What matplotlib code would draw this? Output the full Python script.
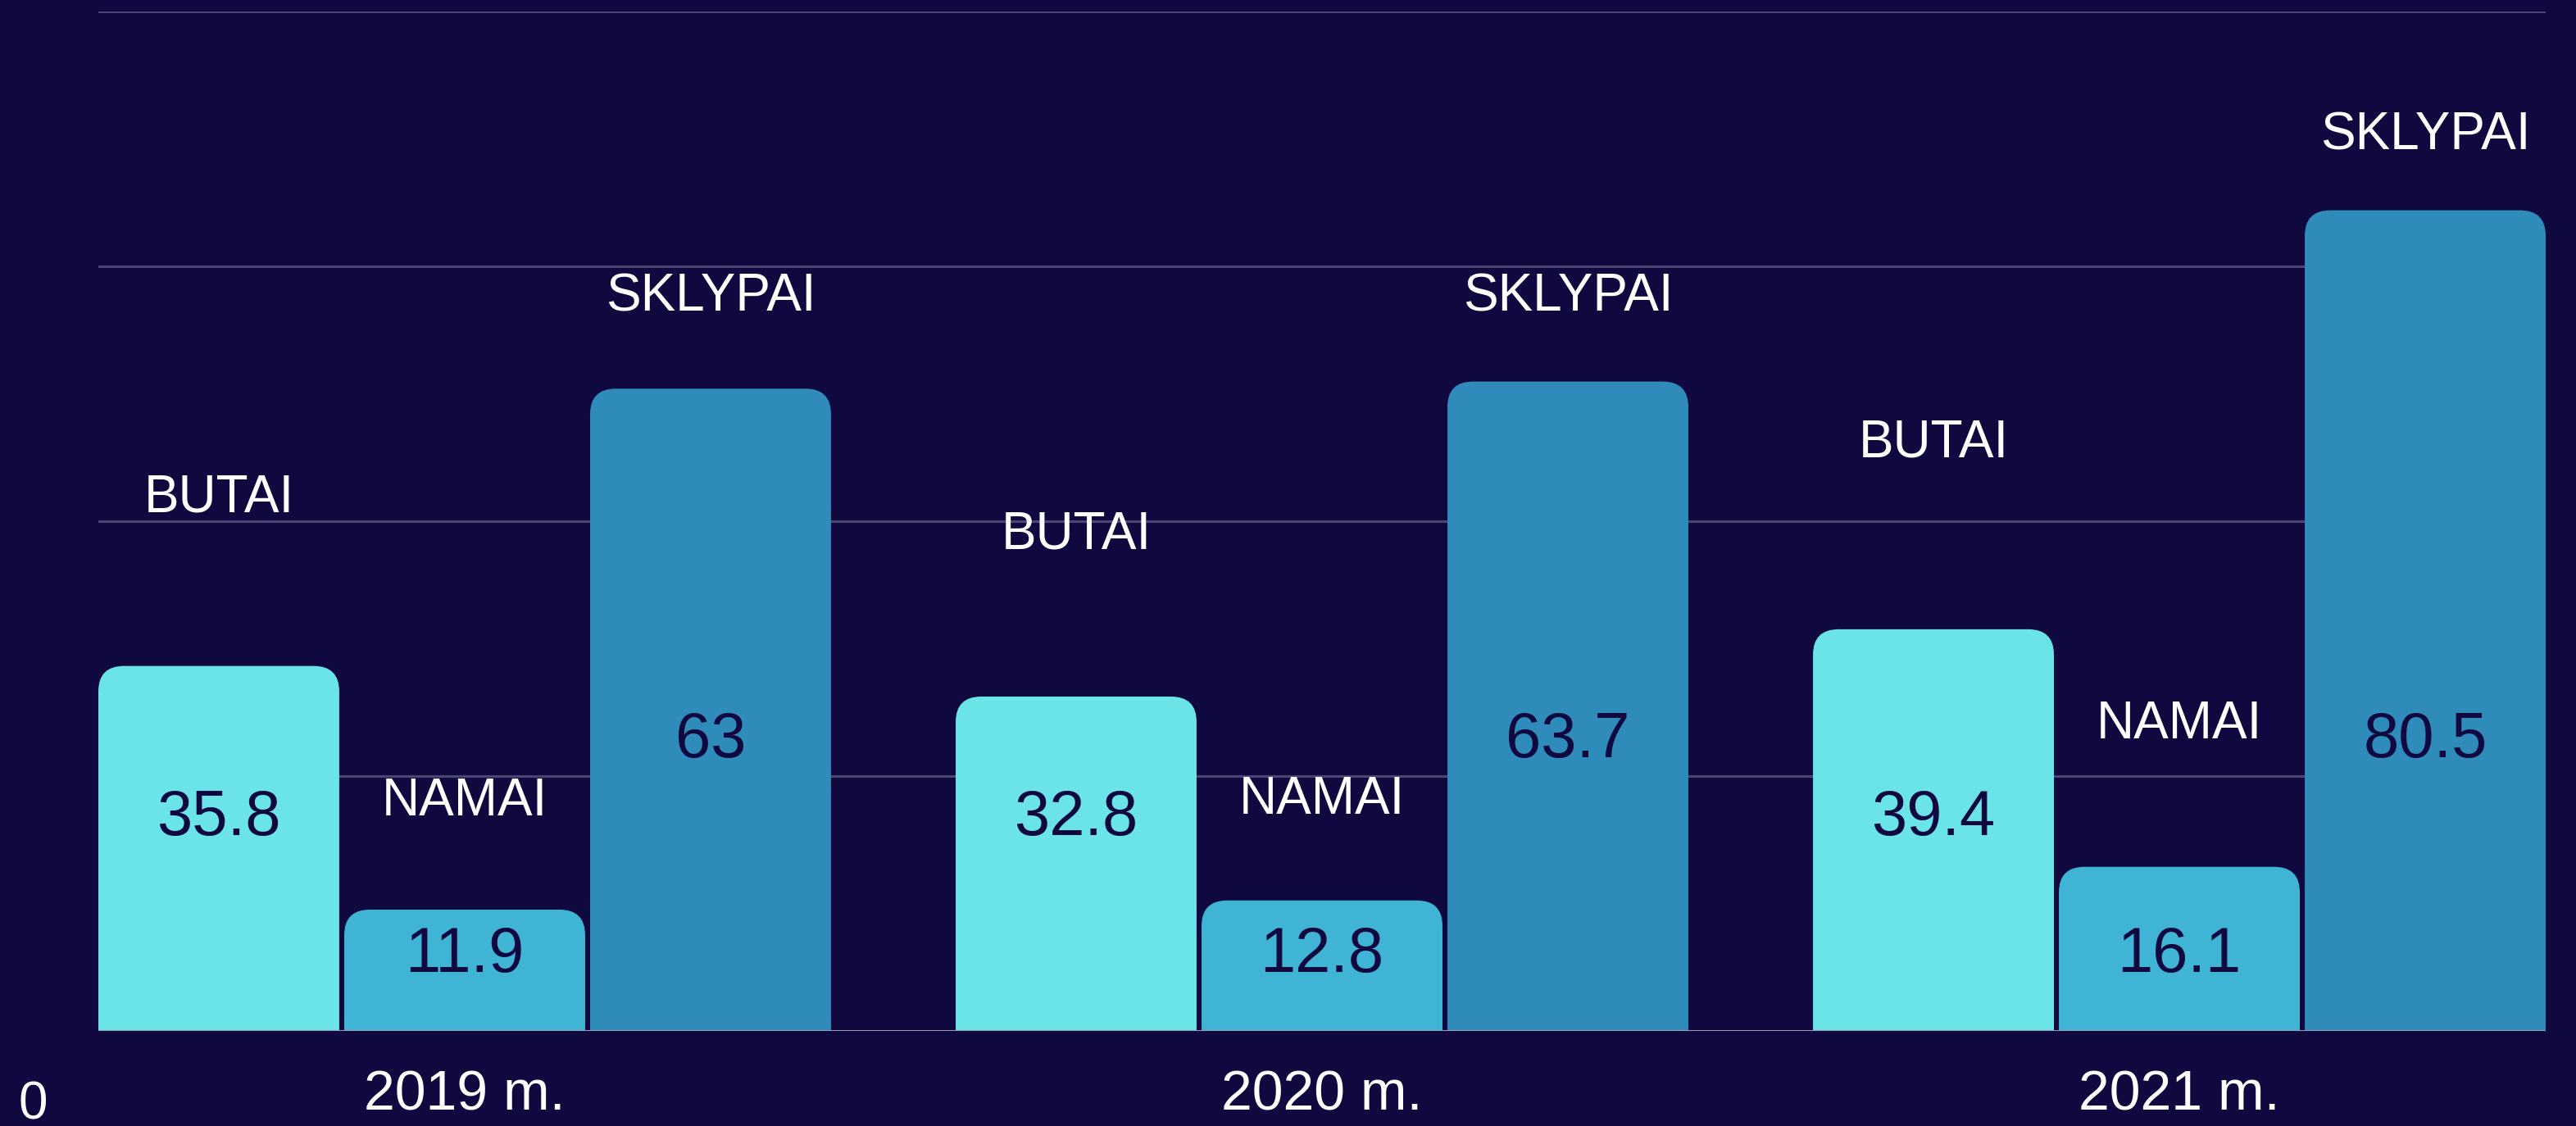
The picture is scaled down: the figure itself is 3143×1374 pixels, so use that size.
import matplotlib
matplotlib.use("Agg")
import matplotlib.pyplot as plt
from matplotlib.path import Path
from matplotlib.patches import PathPatch
import numpy as np

# --- data ---
years = ["2019 m.", "2020 m.", "2021 m."]
series = ["BUTAI", "NAMAI", "SKLYPAI"]
butai = [35.8, 32.8, 39.4]
namai = [11.9, 12.8, 16.1]
sklypai = [63, 63.7, 80.5]
values = [butai, namai, sklypai]

# where the series names sit above the bars (offset above bar top, in data units)
name_offsets = [[16.5, 15.9, 18.3],
                [10.6, 9.9, 14.0],
                [9.0, 8.3, 7.3]]
# value labels sit at a fixed height inside each series
value_label_y = [20.9, 7.4, 28.5]

bg = "#10093f"
colors = ["#6ae4e8", "#40b4d4", "#2e8bba"]
grid_color = "#4b4574"
font = ["Liberation Sans", "DejaVu Sans"]
plt.rcParams["font.family"] = font

fig = plt.figure(figsize=(31.43, 13.74), dpi=100, facecolor=bg)
ax = fig.add_axes([120 / 3143, 116 / 1374, 2986 / 3143, 1244 / 1374])
ax.set_facecolor(bg)

x = np.arange(len(years))
pitch = 0.2868
width = 0.281
rx, ry = 0.03, 2.5


def rounded_top(x0, w, h):
    x1 = x0 + w
    verts = [(x0, 0), (x0, h - ry), (x0, h), (x0 + rx, h),
             (x1 - rx, h), (x1, h), (x1, h - ry), (x1, 0), (x0, 0)]
    codes = [Path.MOVETO, Path.LINETO, Path.CURVE3, Path.CURVE3,
             Path.LINETO, Path.CURVE3, Path.CURVE3, Path.LINETO, Path.CLOSEPOLY]
    return Path(verts, codes)


for i, (name, vals) in enumerate(zip(series, values)):
    pos = x + (i - 1) * pitch
    bars = ax.bar(pos, vals, width=width, color=colors[i], zorder=2)
    for j, b in enumerate(bars):
        bx, bw, bh = b.get_x(), b.get_width(), b.get_height()
        b.remove()
        ax.add_patch(PathPatch(rounded_top(bx, bw, bh), facecolor=colors[i],
                               edgecolor="none", zorder=2))
        cx = bx + bw / 2
        ax.text(cx, value_label_y[i], f"{vals[j]:g}", ha="center", va="center",
                fontsize=56, color=bg, zorder=3)
        ax.text(cx, bh + name_offsets[i][j], name, ha="center", va="center",
                fontsize=46, color="white", zorder=3)

ax.set_xlim(-0.4273, 2.4273)
ax.set_ylim(0, 100)
ax.set_yticks([0, 25, 50, 75, 100])
ax.yaxis.grid(True, color=grid_color, linewidth=2.2)
ax.set_axisbelow(True)
ax.axhline(0, color="#9c99b5", linewidth=2.2, zorder=4)
ax.tick_params(axis="y", left=False, labelleft=False)
ax.set_xticks(x)
ax.set_xticklabels(years, fontsize=49, color="white")
ax.tick_params(axis="x", bottom=False, pad=30)
for s in ax.spines.values():
    s.set_visible(False)

ax.text(40 / 3143, 26 / 1374, "0", transform=fig.transFigure, ha="center",
        va="center", fontsize=46, color="white")

fig.savefig("out.png", dpi=100, facecolor=bg)
